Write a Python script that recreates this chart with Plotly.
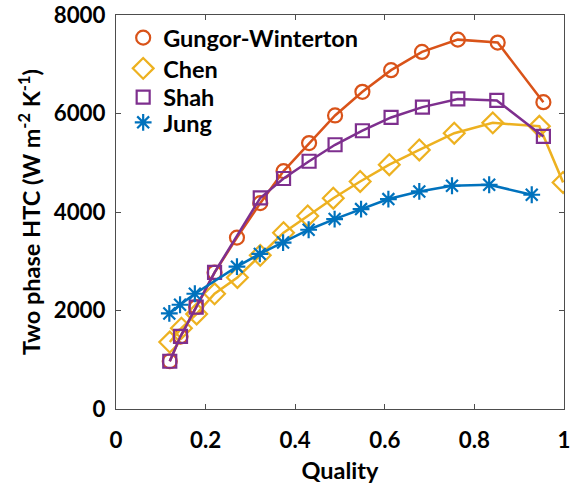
import plotly.graph_objects as go

# Vapour quality and two-phase heat transfer coefficient for each correlation
gungor_x = [0.12, 0.144, 0.179, 0.22, 0.27, 0.322, 0.374, 0.431, 0.489, 0.55, 0.614, 0.683, 0.763, 0.852, 0.954]
gungor_y = [970, 1470, 2070, 2770, 3480, 4180, 4830, 5400, 5960, 6440, 6880, 7250, 7500, 7440, 6230]

chen_x = [0.12, 0.146, 0.18, 0.22, 0.271, 0.322, 0.374, 0.428, 0.485, 0.545, 0.61, 0.677, 0.755, 0.841, 0.945, 0.998]
chen_y = [1360, 1640, 1930, 2340, 2670, 3120, 3580, 3920, 4280, 4620, 4960, 5260, 5600, 5810, 5740, 4600]

shah_x = [0.12, 0.144, 0.179, 0.22, 0.322, 0.374, 0.431, 0.489, 0.55, 0.614, 0.684, 0.763, 0.85, 0.954]
shah_y = [970, 1475, 2070, 2775, 4285, 4680, 5030, 5365, 5650, 5920, 6130, 6295, 6265, 5535]

jung_x = [0.119, 0.143, 0.176, 0.27, 0.321, 0.373, 0.43, 0.488, 0.547, 0.608, 0.677, 0.75, 0.833, 0.928]
jung_y = [1940, 2117, 2340, 2890, 3150, 3380, 3640, 3857, 4060, 4263, 4417, 4533, 4553, 4350]

x_ticks = [0, 0.2, 0.4, 0.6, 0.8, 1]
x_tick_text = ["0", "0.2", "0.4", "0.6", "0.8", "1"]
y_ticks = [0, 2000, 4000, 6000, 8000]

series = [
    ("Gungor-Winterton", gungor_x, gungor_y, "#D95319", "circle-open", 14),
    ("Chen", chen_x, chen_y, "#EDB120", "diamond-open", 16),
    ("Shah", shah_x, shah_y, "#7E2F8E", "square-open", 13),
    ("Jung", jung_x, jung_y, "#0072BD", "asterisk-open", 14),
]

font_family = "Lato"
text_size = 23.5
tick_size = 22.3
axis_color = "#4d4d4d"

# one legend box per entry so the rows sit tightly stacked
legend_ids = ["legend", "legend2", "legend3", "legend4"]
legend_rows = [0.942, 0.864, 0.791, 0.727]

fig = go.Figure()
for name, xs, ys, color, symbol, size in series:
    fig.add_trace(go.Scatter(
        x=xs, y=ys, name=name, mode="lines+markers", showlegend=False,
        line=dict(color=color, width=2.5),
        marker=dict(symbol=symbol, size=size, color=color,
                    line=dict(color=color, width=2.2)),
    ))

# marker-only legend entries
for (name, xs, ys, color, symbol, size), lid in zip(series, legend_ids):
    fig.add_trace(go.Scatter(
        x=[None], y=[None], name=name, mode="markers", legend=lid,
        marker=dict(symbol=symbol, size=size, color=color,
                    line=dict(color=color, width=2.2)),
    ))

legend_layout = {}
for lid, row in zip(legend_ids, legend_rows):
    legend_layout[lid] = dict(
        x=0.016, y=row, xanchor="left", yanchor="middle",
        bgcolor="rgba(0,0,0,0)", borderwidth=0,
        font=dict(family=font_family, size=text_size, color="black", weight="bold"),
        itemwidth=30, tracegroupgap=0,
    )

fig.update_layout(
    width=575, height=485,
    margin=dict(l=115.5, r=11, t=15, b=75.7),
    paper_bgcolor="white", plot_bgcolor="white",
    font=dict(family=font_family, size=tick_size, color="black", weight="bold"),
    showlegend=True,
    **legend_layout,
)

fig.update_xaxes(
    range=[0, 1], tickvals=x_ticks, ticktext=x_tick_text,
    showgrid=False, zeroline=False, automargin=False,
    showline=True, linecolor=axis_color, linewidth=1.2, mirror="ticks",
    ticks="inside", ticklen=5, tickcolor=axis_color, tickwidth=1,
    ticklabelstandoff=11,
    tickfont=dict(family=font_family, size=tick_size, color="black", weight="bold"),
    title=dict(text="Quality", standoff=10,
               font=dict(family=font_family, size=text_size, color="black", weight="bold")),
)
fig.update_yaxes(
    range=[0, 8000], tickvals=y_ticks,
    showgrid=False, zeroline=False, automargin=False,
    showline=True, linecolor=axis_color, linewidth=1.2, mirror="ticks",
    ticks="inside", ticklen=5, tickcolor=axis_color, tickwidth=1,
    ticklabelstandoff=5,
    tickfont=dict(family=font_family, size=tick_size, color="black", weight="bold"),
    title=dict(text="Two phase HTC (W m<sup>-2</sup> K<sup>-1</sup>)", standoff=6,
               font=dict(family=font_family, size=text_size, color="black", weight="bold")),
)

fig.write_html("out.html")
